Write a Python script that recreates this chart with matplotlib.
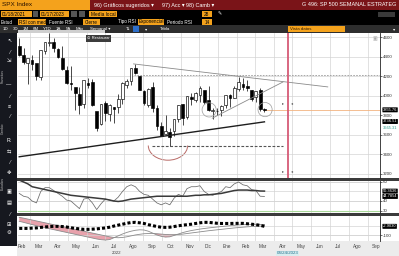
import numpy as np
import pandas as pd
import matplotlib
matplotlib.use('Agg')
import matplotlib.pyplot as plt
import matplotlib.dates as mdates
from matplotlib.patches import Rectangle, Arc, Ellipse

plt.rcParams['font.family'] = ['Liberation Sans', 'DejaVu Sans']

W, H = 399, 256

# --- data (weekly SPX candles) ---
weeks = pd.date_range('2022-02-11', periods=58, freq='W-FRI')
opens = [4505, 4412, 4332, 4364, 4328, 4188, 4462, 4541, 4547, 4474, 4385, 4255, 4130, 4081, 4013,
         3920, 4131, 4135, 3838, 3715, 3921, 3815, 3880, 3883, 3966, 4112, 4155, 4282, 4195, 4041,
         3910, 4083, 3875, 3682, 3610, 3628, 3638, 3763, 3913, 3779, 3978, 3956, 4005, 4052, 3954,
         3842, 3843, 3853, 3910, 3999, 3979, 4071, 4120, 4096, 4055, 3983, 4055, 3858]
highs = [4590, 4489, 4362, 4416, 4329, 4465, 4546, 4637, 4593, 4487, 4512, 4308, 4307, 4081, 4091,
         4158, 4178, 4169, 3838, 3913, 3951, 3918, 3880, 4013, 4141, 4167, 4280, 4325, 4203, 4062,
         4077, 4140, 3907, 3736, 3806, 3670, 3764, 3905, 3919, 4001, 4028, 4034, 4101, 4052, 4101,
         3876, 3878, 3906, 4004, 4015, 4095, 4195, 4176, 4157, 4056, 4048, 4078, 3873]
lows = [4401, 4327, 4115, 4258, 4157, 4161, 4424, 4506, 4450, 4381, 4267, 4124, 4062, 3858, 3810,
        3875, 4074, 3900, 3637, 3705, 3739, 3742, 3721, 3819, 3911, 4079, 4107, 4218, 4058, 3907,
        3886, 3837, 3648, 3585, 3605, 3491, 3592, 3735, 3698, 3764, 3906, 3933, 3938, 3918, 3839,
        3764, 3800, 3794, 3877, 3886, 3973, 4048, 4060, 4047, 3944, 3939, 3847, 3838]
closes = [4418, 4349, 4385, 4329, 4204, 4463, 4543, 4546, 4488, 4392, 4272, 4132, 4123, 4024, 3901,
          4158, 4109, 3901, 3675, 3912, 3825, 3899, 3863, 3962, 4130, 4145, 4280, 4228, 4058, 3924,
          4067, 3873, 3693, 3586, 3639, 3583, 3753, 3901, 3771, 3993, 3965, 4026, 4072, 3934, 3852,
          3845, 3840, 3895, 3999, 3973, 4071, 4136, 4090, 4079, 3970, 4046, 3862, 3856]

rsi = [48, 45, 44, 40, 38, 50, 54, 54, 51, 48, 45, 41, 40, 36, 32, 42, 43, 38, 31, 37,
       42, 41, 40, 44, 50, 55, 57, 55, 50, 47, 46, 42, 38, 36, 38, 36, 43, 47, 45, 53,
       55, 55, 56, 50, 47, 46, 48, 50, 55, 54, 58, 60, 57, 56, 52, 51, 45, 44.8]
rsi_ma = [62, 60, 58, 55, 54, 53, 52, 51, 50, 49, 48, 47, 46, 45.5, 45, 44.5, 44, 43.5, 43, 42.5,
          42, 41, 40, 39.5, 40, 41, 42, 42.5, 43, 43.5, 44, 44.5, 45, 45, 45, 45, 45, 45, 45, 45,
          45.5, 46, 46, 46.5, 46.5, 47, 47.5, 48, 49, 50, 51, 51.5, 51.5, 51.5, 51, 51, 50.5, 50.4]

osc_sq = [-25, -25, -25, -22, -20, -14, -10, -5, -3, -3, -5, -10, -18, -25, -30, -35, -35, -33, -30, -25,
          -20, -12, 0, 10, 20, 30, 38, 40, 35, 28, 15, 5, -5, -12, -14, -12, -5, 3, 10, 15,
          20, 28, 35, 40, 40, 35, 30, 28, 28, 28, 29, 29, 29, 25, 20, 15, 8, -2.9]
osc_slow = [94, 85, 75, 65, 55, 45, 35, 25, 15, 5, -5, -15, -25, -35, -45, -55, -65, -75, -85, -95,
            -105, -115, -122, -125, -122, -115, -105, -95, -88, -82, -80, -80, -82, -86, -90, -92, -92, -90, -86, -80,
            -74, -68, -62, -56, -50, -45, -40, -35, -30, -25, -20, -16, -12, -8, -5, -3, -1, 0]
osc_fast = [51, 40, 28, 16, 4, -8, -18, -28, -38, -48, -58, -68, -78, -88, -98, -108, -118, -128, -138, -146,
            -150, -145, -125, -105, -85, -68, -55, -45, -40, -42, -55, -75, -95, -110, -118, -115, -100, -85, -70, -58,
            -48, -40, -32, -26, -20, -15, -10, -5, 0, 4, 8, 12, 15, 17, 18, 18, 17, 16]

price_ticks = [3200, 3400, 3600, 3800, 4000, 4200, 4400, 4600]
rsi_ticks = [30, 40, 60]
osc_ticks = [-100]
month_labels = ['Feb', 'Mar', 'Abr', 'May', 'Jun', 'Jul', 'Ago', 'Sep', 'Oct', 'Nov',
                'Dic', 'Ene', 'Feb', 'Mar', 'Abr', 'May', 'Jun', 'Jul', 'Ago', 'Sep']
last_price = 3855.76
support_end = 3736.51
teal_level = 3665.31
rsi_now, rsi_ma_now = 44.7854, 50.3636
osc_now = -2.9030
mark_date = pd.Timestamp('2023-04-24')

# drawn study lines (date, price)
down_trend = (['2022-08-16', '2023-06-28'], [4325, 4090])
up_trend = (['2022-12-22', '2023-04-16'], [3770, 4140])
support = (['2022-02-11', '2023-03-17'], [3376, 3733])
resist_level = 4210
low_level = (['2022-09-15', '2023-04-16'], 3491)

xmin, xmax = pd.Timestamp('2022-02-09'), pd.Timestamp('2023-09-21')

ORANGE = '#f4a21c'
DARKRED = '#7a1418'
GRID = '#d4d4d4'

fig = plt.figure(figsize=(W / 100, H / 100), dpi=100)
bg = fig.add_axes([0, 0, 1, 1])
bg.set_xlim(0, W)
bg.set_ylim(H, 0)
bg.axis('off')


def box(x0, y0, x1, y1, color, **kw):
    bg.add_patch(Rectangle((x0, y0), x1 - x0, y1 - y0, facecolor=color, edgecolor='none', **kw))


def label(x, y, s, color='white', size=3.6, **kw):
    bg.text(x, y, s, color=color, fontsize=size, va='center', **kw)


def panel(x0, y0, x1, y1):
    return fig.add_axes([x0 / W, 1 - y1 / H, (x1 - x0) / W, (y1 - y0) / H])


# --- header rows ---
box(0, 0, W, 33, 'black')
box(0, 0, 90, 10, ORANGE)
box(90, 0, W, 10, DARKRED)
label(2, 5, 'SPX Index', color='#2a1200', size=4.6)
label(94, 5, '96) Gráficos sugeridos ▾', size=4.0)
label(162, 5, '97) Acc ▾', size=4.0)
label(186, 5, '98) Camb ▾', size=4.0)
label(396, 5, 'G 496: SP 500 SEMANAL ESTRATEG', size=4.0, ha='right')

box(1, 11, 32, 17, ORANGE)
label(2, 14, '01/18/2021', color='black', size=3.4)
box(33, 11, 38, 17, '#555555')
box(40, 11, 69, 17, ORANGE)
label(41, 14, '01/17/2023', color='black', size=3.4)
box(71, 11, 77, 17, '#555555')
box(79, 11, 85, 17, '#555555')
box(89, 11, 117, 17, ORANGE)
label(91, 14, 'Media local', color='black', size=3.4)
box(202, 11, 212, 17, ORANGE)
label(204, 14, '28', color='black', size=3.4)
label(218, 14, '✎', size=3.6)
box(378, 12, 395, 17, '#3a3a3a')

box(18, 19, 46, 25, ORANGE)
box(83, 19, 100, 25, ORANGE)
box(138, 19, 164, 25, ORANGE)
box(202, 19, 212, 25, ORANGE)
label(1, 22, 'Estud', size=3.3)
label(19, 22, 'RSI con med', color='black', size=3.3)
label(49, 22, 'Fuente RSI', size=3.3)
label(85, 22, 'Cierre', color='black', size=3.3)
label(118, 22, 'Tipo RSI', size=3.3)
label(139, 22, 'Exponencial', color='black', size=3.3)
label(167, 22, 'Periodo RSI', size=3.3)
label(205, 22, '14', color='black', size=3.3)

box(0, 25, W, 33, '#2e2e2e')
for xx, s in zip([3, 13, 23, 33, 43, 56, 66, 76, 90, 126, 145, 160],
                 ['1D', '3D', '1M', '6M', 'YTD', '1A', '5A', 'Máx', 'Semanal ▾', '⇅', '▾', 'Tabla']):
    label(xx, 29, s, size=3.2)
box(133, 26, 139, 32, '#2f6fc9')
box(288, 26, 345, 32, ORANGE)
label(290, 29, 'Vista datos', color='#3a2000', size=3.2)
label(393, 29, '▾', size=3.2)

# left toolbar
box(0, 33, 17, 246, '#16181f')
for yy, s in zip([40, 52, 60, 85, 96, 107, 116, 140, 151, 162, 173, 192, 203, 214, 224, 233],
                 ['↖', '⁄', '⇲', '—', '⁄', '≡', '⁄', 'R:', '⇆', '⁄', '✥', '▣', '▤', '⁄', '⊞', '⚙']):
    label(9, yy, s, size=3.8, ha='center')
for yy, s in zip([76, 128, 183], ['Favoritos', 'Cambio', 'Estudios']):
    bg.text(3, yy, s, color='#bbbbbb', fontsize=2.4, rotation=90, va='center', ha='center')
box(18, 30, 105, 35, '#cfcfcf')

# separators and bottom strip
box(17, 178, W, 181, '#3b3b3b')
box(17, 213, W, 216, '#3b3b3b')
box(17, 241, W, H, '#ececec')

# --- panels ---
ax_p = panel(18, 33, 380, 178)
ax_r = panel(18, 181, 380, 213)
ax_m = panel(18, 216, 380, 241)

for ax in (ax_p, ax_r, ax_m):
    ax.set_xlim(xmin, xmax)
    ax.set_facecolor('white')
    ax.xaxis.set_major_locator(mdates.MonthLocator())
    ax.xaxis.set_minor_locator(mdates.MonthLocator(bymonthday=15))
    ax.grid(True, which='major', color=GRID, lw=0.5)
    ax.yaxis.tick_right()
    ax.tick_params(axis='y', labelsize=3.2, length=1.2, width=0.5, pad=1, colors='#333333')
    ax.tick_params(axis='x', which='both', length=0, labelbottom=False)
    for side in ('top', 'left', 'bottom'):
        ax.spines[side].set_visible(False)
    ax.spines['right'].set_color('#222222')
    ax.spines['right'].set_linewidth(0.6)

# price candles
dn = mdates.date2num(weeks)
o, h, l, c = map(np.array, (opens, highs, lows, closes))
up = c >= o
ax_p.vlines(dn, l, h, color='black', lw=0.5, zorder=3)
ax_p.bar(dn, np.abs(c - o) + 4, bottom=np.minimum(o, c), width=4.4,
         color=np.where(up, 'white', 'black'), edgecolor='black', lw=0.45, zorder=4)
ax_p.set_ylim(3159, 4641)
ax_p.set_yticks(price_ticks)
ax_p.set_yticklabels([str(t) for t in price_ticks])

ax_p.plot(pd.to_datetime(down_trend[0]), down_trend[1], color='#8a8a8a', lw=0.6, zorder=5)
ax_p.plot(pd.to_datetime(up_trend[0]), up_trend[1], color='#8a8a8a', lw=0.6, zorder=5)
ax_p.plot(pd.to_datetime(support[0]), support[1], color='#1e1e1e', lw=1.0, zorder=5)
ax_p.plot([pd.Timestamp('2022-08-16'), xmax], [resist_level] * 2, color='#9a9a9a', lw=0.6, ls=(0, (2, 1.5)))
ax_p.plot(pd.to_datetime(low_level[0]), [low_level[1]] * 2, color='#555555', lw=0.8, ls=(0, (2.5, 1.5)))
ax_p.plot([weeks[-1], xmax], [last_price] * 2, color='#f2b380', lw=0.6, zorder=2)
ax_p.add_patch(Arc((mdates.date2num(pd.Timestamp('2022-10-11')), 3491), 64, 300,
                   theta1=180, theta2=360, color='#b86a66', lw=0.7))
for d, p in (('2022-12-17', 3855), ('2023-03-18', 3858)):
    ax_p.add_patch(Ellipse((mdates.date2num(pd.Timestamp(d)), p), 23, 145,
                           fill=False, edgecolor='#9a9a9a', lw=0.5, zorder=6))
ax_p.axvline(mark_date, color='#d65a76', lw=1.3, zorder=6)
for pp in (3930, 3230):
    ax_p.text(mark_date - pd.Timedelta(days=7), pp, '▸', fontsize=3, color='#555555', ha='center', va='center')
    ax_p.text(mark_date + pd.Timedelta(days=7), pp, '◂', fontsize=3, color='#555555', ha='center', va='center')
ax_p.text(0.992, 0.975, '▣', transform=ax_p.transAxes, fontsize=3.5, color='#aaaaaa', ha='right', va='top')
ax_p.text(mdates.date2num(xmin) + 112, 4585, '⊙ Restaurar', fontsize=3.0, color='white',
          bbox=dict(boxstyle='square,pad=0.3', fc='#3c3c3c', ec='none'), va='center')

tr = ax_p.get_yaxis_transform()
boxkw = dict(boxstyle='round,pad=0.12', fc='black', ec='none')
ax_p.text(1.008, last_price, f'{last_price:.2f}', transform=tr, fontsize=2.9, color='white',
          va='center', bbox=boxkw, clip_on=False)
ax_p.text(1.008, support_end, f'{support_end:.2f}', transform=tr, fontsize=2.9, color='white',
          va='center', bbox=boxkw, clip_on=False)
ax_p.text(1.008, teal_level, f'{teal_level:.2f}', transform=tr, fontsize=2.9, color='#2a9d8f',
          va='center', clip_on=False)

# RSI panel
ax_r.plot(weeks, rsi, color='#6a6a6a', lw=0.55)
ax_r.plot(weeks, rsi_ma, color='#3a3a3a', lw=1.1)
ax_r.axhline(30, color='#a9d99a', lw=0.8)
for lvl in (40, 50, 60):
    ax_r.axhline(lvl, color=GRID, lw=0.5, zorder=0)
ax_r.set_ylim(27.4, 61)
ax_r.set_yticks(rsi_ticks)
ax_r.set_yticklabels([str(t) for t in rsi_ticks])
tr = ax_r.get_yaxis_transform()
for v in (rsi_ma_now, rsi_now):
    ax_r.text(1.008, v, f'{v:.4f}', transform=tr, fontsize=2.9, color='white',
              va='center', bbox=boxkw, clip_on=False)

# oscillator panel
slow = np.array(osc_slow)
fast = np.array(osc_fast)
ax_m.fill_between(weeks, slow, fast, where=fast < slow, interpolate=True,
                  color='#e8a2ac', lw=0)
ax_m.plot(weeks, slow, color='#8c8c8c', lw=0.6)
ax_m.plot(weeks, fast, color='#8c8c8c', lw=0.6)
ax_m.plot(weeks, osc_sq, color='black', lw=2.2, ls=(0, (1.0, 0.7)))
for lvl in (0, -100):
    ax_m.axhline(lvl, color=GRID, lw=0.5, zorder=0)
ax_m.set_ylim(-160, 108)
ax_m.set_yticks(osc_ticks)
ax_m.set_yticklabels([str(t) for t in osc_ticks])
ax_m.text(1.008, osc_now, f'{osc_now:.4f}', transform=ax_m.get_yaxis_transform(), fontsize=2.9,
          color='white', va='center', bbox=boxkw, clip_on=False)

ax_m.set_xticks(mdates.date2num(pd.date_range('2022-02-01', periods=len(month_labels), freq='MS')
                                + pd.Timedelta(days=14)), minor=True)
ax_m.set_xticklabels(month_labels, minor=True)
ax_m.tick_params(axis='x', which='minor', labelbottom=True, labelsize=3.4, pad=2, colors='#444444')
ax_m.text(pd.Timestamp('2022-07-20'), -0.42, '2022', transform=ax_m.get_xaxis_transform(),
          fontsize=3.2, color='#444444', ha='center', va='top')
ax_m.text(mark_date, -0.42, mark_date.strftime('%m/%d/%Y'), transform=ax_m.get_xaxis_transform(),
          fontsize=3.2, color='#1f6f8b', ha='center', va='top',
          bbox=dict(boxstyle='square,pad=0.15', fc='#d8eef0', ec='none'))

fig.savefig('out.png', dpi=100)
